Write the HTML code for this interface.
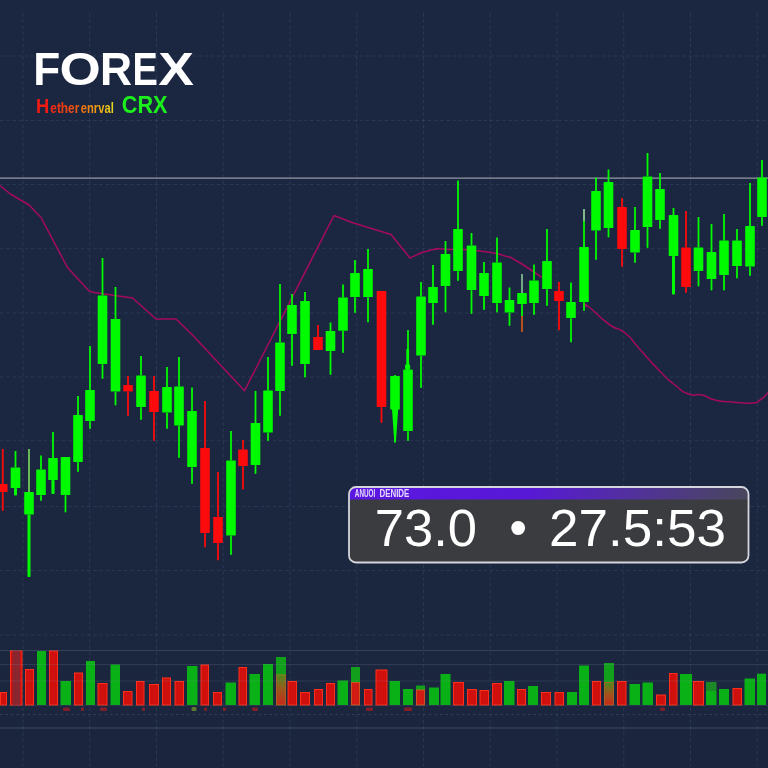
<!DOCTYPE html>
<html lang="en">
<head>
<meta charset="utf-8">
<title>FOREX</title>
<style>
html,body{margin:0;padding:0;background:#1b2740;}
body{width:768px;height:768px;overflow:hidden;font-family:"Liberation Sans",sans-serif;}
svg{display:block;}
</style>
</head>
<body>
<svg width="768" height="768" viewBox="0 0 768 768">
<defs>
<linearGradient id="bgg" x1="0" y1="0" x2="0" y2="1"><stop offset="0" stop-color="#1b2741"/><stop offset="0.5" stop-color="#1b2740"/><stop offset="1" stop-color="#1b263e"/></linearGradient>
<linearGradient id="sub" gradientUnits="userSpaceOnUse" x1="50" y1="0" x2="114" y2="0"><stop offset="0" stop-color="#f02412"/><stop offset="0.4" stop-color="#f05410"/><stop offset="0.6" stop-color="#f0840e"/><stop offset="0.85" stop-color="#ecb814"/><stop offset="1" stop-color="#e6dc1c"/></linearGradient>
<linearGradient id="hdr" x1="0" y1="0" x2="1" y2="0"><stop offset="0" stop-color="#5c16e2"/><stop offset="0.45" stop-color="#5819d6"/><stop offset="0.7" stop-color="#52309e"/><stop offset="0.9" stop-color="#4c4072"/><stop offset="1" stop-color="#48465c"/></linearGradient>
<linearGradient id="mix" x1="0" y1="0" x2="0" y2="1"><stop offset="0" stop-color="#4c8a1c"/><stop offset="0.45" stop-color="#9a5a1c"/><stop offset="1" stop-color="#c8281a"/></linearGradient>
<clipPath id="tipclip"><rect x="349" y="487" width="399.5" height="75.5" rx="7" ry="7"/></clipPath>
</defs>
<rect width="768" height="768" fill="url(#bgg)"/>
<g stroke="#7f93bd" stroke-opacity="0.15" stroke-width="1" stroke-dasharray="3.6 2.6" fill="none">
<line x1="23" y1="13" x2="23" y2="768"/>
<line x1="89.75" y1="13" x2="89.75" y2="768"/>
<line x1="156.5" y1="13" x2="156.5" y2="768"/>
<line x1="223.25" y1="13" x2="223.25" y2="768"/>
<line x1="290" y1="13" x2="290" y2="768"/>
<line x1="356.75" y1="13" x2="356.75" y2="768"/>
<line x1="423.5" y1="13" x2="423.5" y2="768"/>
<line x1="490.25" y1="13" x2="490.25" y2="768"/>
<line x1="557" y1="13" x2="557" y2="768"/>
<line x1="623.75" y1="13" x2="623.75" y2="768"/>
<line x1="690.5" y1="13" x2="690.5" y2="768"/>
<line x1="757.25" y1="13" x2="757.25" y2="768"/>
<line x1="0" y1="56" x2="768" y2="56"/>
<line x1="0" y1="120.5" x2="768" y2="120.5"/>
<line x1="0" y1="184.5" x2="768" y2="184.5"/>
<line x1="0" y1="248.7" x2="768" y2="248.7"/>
<line x1="0" y1="313" x2="768" y2="313"/>
<line x1="0" y1="377" x2="768" y2="377"/>
<line x1="0" y1="440.7" x2="768" y2="440.7"/>
<line x1="0" y1="506.5" x2="768" y2="506.5"/>
<line x1="0" y1="570.5" x2="768" y2="570.5"/>
<line x1="0" y1="635" x2="768" y2="635"/>
</g>
<line x1="0" y1="178.2" x2="768" y2="178.2" stroke="#9699a3" stroke-width="1.3"/>
<polyline points="0,185.5 10,193.75 29,205 41,217.5 67.5,267.5 89,291 94,292.5 115,295.5 132.5,298 156,319 176,319 192,334.5 244.5,390.75 334,215.5 352,222.5 391,234.5 410,258" fill="none" stroke="#a40a60" stroke-width="1.55" stroke-linejoin="round"/>
<path d="M410,258 C417,255.33 417.67,252.83 431,250 C444.33,247.17 433.67,249.17 450,249.5 C466.33,249.83 461.67,248.83 480,251 C498.33,253.17 493.33,253 505,256 C516.67,259 505.83,255 515,260 C524.17,265 523.83,265.33 532.5,271 C541.17,276.67 538.17,275 541,277" fill="none" stroke="#a40a60" stroke-width="1.55" stroke-linecap="round"/>
<path d="M586,306.5 C587,306.67 581.43,301.17 589,307 C596.57,312.83 596.7,315.33 608.7,324 C620.7,332.67 615,325 625,333 C635,341 627.47,335.67 638.7,348 C649.93,360.33 646.6,357.67 658.7,370 C670.8,382.33 665,377 675,385 C685,393 679.7,390.67 688.7,394 C697.7,397.33 693.23,393 702,395 C710.77,397 705,397.67 715,400 C725,402.33 719.67,401 732,402 C744.33,403 742.67,403.67 752,403 C761.33,402.33 754.67,403.43 760,400 C765.33,396.57 765.33,395.13 768,392.7" fill="none" stroke="#a40a60" stroke-width="1.55" stroke-linecap="round"/>
<g>
<rect x="1.85" y="449" width="1.8" height="35" fill="#fc0a0c"/>
<rect x="1.85" y="492" width="1.8" height="19" fill="#fc0a0c" rx="0.8"/>
<rect x="-2.05" y="484" width="9.6" height="8" fill="#fc0a0c" rx="0.6"/>
<rect x="14.6" y="451" width="1.8" height="16.5" fill="#00fa00"/>
<rect x="14" y="488" width="3" height="7.5" fill="#00fa00" rx="0.8"/>
<rect x="10.7" y="467.5" width="9.6" height="20.5" fill="#00fa00" rx="0.6"/>
<rect x="28.1" y="449" width="1.8" height="43" fill="#00fa00"/>
<rect x="27.5" y="514.5" width="3" height="62.5" fill="#00fa00" rx="0.8"/>
<rect x="24.2" y="492" width="9.6" height="22.5" fill="#00fa00" rx="0.6"/>
<rect x="40.1" y="455.5" width="1.8" height="14" fill="#00fa00"/>
<rect x="40.1" y="495" width="1.8" height="6" fill="#00fa00" rx="0.8"/>
<rect x="36.2" y="469.5" width="9.6" height="25.5" fill="#00fa00" rx="0.6"/>
<rect x="52.1" y="432" width="1.8" height="26" fill="#00fa00"/>
<rect x="51.4" y="480" width="3.2" height="14" fill="#00fa00" rx="0.8"/>
<rect x="48.2" y="458" width="9.6" height="22" fill="#00fa00" rx="0.6"/>
<rect x="64.6" y="495" width="1.8" height="17.5" fill="#00fa00" rx="0.8"/>
<rect x="60.7" y="457" width="9.6" height="38" fill="#00fa00" rx="0.6"/>
<rect x="77.1" y="396" width="1.8" height="19" fill="#00fa00"/>
<rect x="77.1" y="462" width="1.8" height="10" fill="#00fa00" rx="0.8"/>
<rect x="73.2" y="415" width="9.6" height="47" fill="#00fa00" rx="0.6"/>
<rect x="89.1" y="346" width="1.8" height="44" fill="#00fa00"/>
<rect x="89.1" y="421" width="1.8" height="8" fill="#00fa00" rx="0.8"/>
<rect x="85.2" y="390" width="9.6" height="31" fill="#00fa00" rx="0.6"/>
<rect x="101.6" y="258" width="1.8" height="37.5" fill="#00fa00"/>
<rect x="101.6" y="364" width="1.8" height="15" fill="#00fa00" rx="0.8"/>
<rect x="97.7" y="295.5" width="9.6" height="68.5" fill="#00fa00" rx="0.6"/>
<rect x="114.6" y="287" width="1.8" height="32" fill="#00fa00"/>
<rect x="114.6" y="391.5" width="1.8" height="14" fill="#00fa00" rx="0.8"/>
<rect x="110.7" y="319" width="9.6" height="72.5" fill="#00fa00" rx="0.6"/>
<rect x="127.1" y="376" width="1.8" height="9" fill="#fc0a0c"/>
<rect x="127.1" y="391.5" width="1.8" height="24.5" fill="#fc0a0c" rx="0.8"/>
<rect x="123.2" y="385" width="9.6" height="6.5" fill="#fc0a0c" rx="0.6"/>
<rect x="140.1" y="356" width="1.8" height="19.5" fill="#00fa00"/>
<rect x="140.1" y="407" width="1.8" height="13" fill="#00fa00" rx="0.8"/>
<rect x="136.2" y="375.5" width="9.6" height="31.5" fill="#00fa00" rx="0.6"/>
<rect x="153.1" y="376" width="1.8" height="15" fill="#fc0a0c"/>
<rect x="153.1" y="412" width="1.8" height="29" fill="#fc0a0c" rx="0.8"/>
<rect x="149.2" y="391" width="9.6" height="21" fill="#fc0a0c" rx="0.6"/>
<rect x="166.1" y="367" width="1.8" height="20" fill="#00fa00"/>
<rect x="166.1" y="412.5" width="1.8" height="16.5" fill="#00fa00" rx="0.8"/>
<rect x="162.2" y="387" width="9.6" height="25.5" fill="#00fa00" rx="0.6"/>
<rect x="178.1" y="357" width="1.8" height="29.5" fill="#00fa00"/>
<rect x="178.1" y="425.5" width="1.8" height="32.5" fill="#00fa00" rx="0.8"/>
<rect x="174.2" y="386.5" width="9.6" height="39" fill="#00fa00" rx="0.6"/>
<rect x="191.1" y="387.5" width="1.8" height="23.5" fill="#00fa00"/>
<rect x="191.1" y="467" width="1.8" height="17" fill="#00fa00" rx="0.8"/>
<rect x="187.2" y="411" width="9.6" height="56" fill="#00fa00" rx="0.6"/>
<rect x="204.1" y="401" width="1.8" height="47" fill="#fc0a0c"/>
<rect x="204.1" y="533" width="1.8" height="14.5" fill="#fc0a0c" rx="0.8"/>
<rect x="200.2" y="448" width="9.6" height="85" fill="#fc0a0c" rx="0.6"/>
<rect x="217.1" y="472" width="1.8" height="45" fill="#fc0a0c"/>
<rect x="217.1" y="543" width="1.8" height="17.5" fill="#fc0a0c" rx="0.8"/>
<rect x="213.2" y="517" width="9.6" height="26" fill="#fc0a0c" rx="0.6"/>
<rect x="230.1" y="431" width="1.8" height="29.5" fill="#00fa00"/>
<rect x="230.1" y="535.5" width="1.8" height="19.5" fill="#00fa00" rx="0.8"/>
<rect x="226.2" y="460.5" width="9.6" height="75" fill="#00fa00" rx="0.6"/>
<rect x="242.1" y="440" width="1.8" height="9.5" fill="#fc0a0c"/>
<rect x="242.1" y="466" width="1.8" height="23.5" fill="#fc0a0c" rx="0.8"/>
<rect x="238.2" y="449.5" width="9.6" height="16.5" fill="#fc0a0c" rx="0.6"/>
<rect x="254.6" y="391" width="1.8" height="32" fill="#00fa00"/>
<rect x="254.6" y="465" width="1.8" height="9" fill="#00fa00" rx="0.8"/>
<rect x="250.7" y="423" width="9.6" height="42" fill="#00fa00" rx="0.6"/>
<rect x="267.1" y="357" width="1.8" height="33.5" fill="#00fa00"/>
<rect x="267.1" y="432.5" width="1.8" height="8.5" fill="#00fa00" rx="0.8"/>
<rect x="263.2" y="390.5" width="9.6" height="42" fill="#00fa00" rx="0.6"/>
<rect x="279.1" y="284" width="1.8" height="58.5" fill="#00fa00"/>
<rect x="279.1" y="391" width="1.8" height="25" fill="#00fa00" rx="0.8"/>
<rect x="275.2" y="342.5" width="9.6" height="48.5" fill="#00fa00" rx="0.6"/>
<rect x="291.1" y="294" width="1.8" height="11" fill="#00fa00"/>
<rect x="291.1" y="334" width="1.8" height="32" fill="#00fa00" rx="0.8"/>
<rect x="287.2" y="305" width="9.6" height="29" fill="#00fa00" rx="0.6"/>
<rect x="304.1" y="292" width="1.8" height="9" fill="#00fa00"/>
<rect x="304.1" y="364" width="1.8" height="13.5" fill="#00fa00" rx="0.8"/>
<rect x="300.2" y="301" width="9.6" height="63" fill="#00fa00" rx="0.6"/>
<rect x="317.1" y="325" width="1.8" height="12" fill="#fc0a0c"/>
<rect x="313.2" y="337" width="9.6" height="13" fill="#fc0a0c" rx="0.6"/>
<rect x="329.6" y="322.5" width="1.8" height="8.5" fill="#00fa00"/>
<rect x="329.6" y="351" width="1.8" height="24" fill="#00fa00" rx="0.8"/>
<rect x="325.7" y="331" width="9.6" height="20" fill="#00fa00" rx="0.6"/>
<rect x="342.1" y="284.5" width="1.8" height="13" fill="#00fa00"/>
<rect x="342.1" y="330.75" width="1.8" height="22.25" fill="#00fa00" rx="0.8"/>
<rect x="338.2" y="297.5" width="9.6" height="33.25" fill="#00fa00" rx="0.6"/>
<rect x="354.1" y="260" width="1.8" height="13" fill="#00fa00"/>
<rect x="354.1" y="297" width="1.8" height="16" fill="#00fa00" rx="0.8"/>
<rect x="350.2" y="273" width="9.6" height="24" fill="#00fa00" rx="0.6"/>
<rect x="367.1" y="249" width="1.8" height="20" fill="#00fa00"/>
<rect x="367.1" y="297" width="1.8" height="25.5" fill="#00fa00" rx="0.8"/>
<rect x="363.2" y="269" width="9.6" height="28" fill="#00fa00" rx="0.6"/>
<rect x="380.6" y="407" width="1.8" height="16" fill="#fc0a0c" rx="0.8"/>
<rect x="376.7" y="291" width="9.6" height="116" fill="#fc0a0c" rx="0.6"/>
<rect x="394.1" y="375" width="1.8" height="1" fill="#00fa00"/>
<rect x="394.1" y="409.5" width="1.8" height="33" fill="#00fa00" rx="0.8"/>
<rect x="390.2" y="376" width="9.6" height="33.5" fill="#00fa00" rx="0.6"/>
<rect x="407.1" y="330" width="1.8" height="39.5" fill="#00fa00"/>
<rect x="407.1" y="431" width="1.8" height="10" fill="#00fa00" rx="0.8"/>
<rect x="403.2" y="369.5" width="9.6" height="61.5" fill="#00fa00" rx="0.6"/>
<rect x="420.1" y="282" width="1.8" height="14.5" fill="#00fa00"/>
<rect x="420.1" y="355.5" width="1.8" height="32.5" fill="#00fa00" rx="0.8"/>
<rect x="416.2" y="296.5" width="9.6" height="59" fill="#00fa00" rx="0.6"/>
<rect x="432.1" y="265" width="1.8" height="22" fill="#00fa00"/>
<rect x="432.1" y="303" width="1.8" height="22" fill="#00fa00" rx="0.8"/>
<rect x="428.2" y="287" width="9.6" height="16" fill="#00fa00" rx="0.6"/>
<rect x="444.6" y="241" width="1.8" height="13" fill="#00fa00"/>
<rect x="444.6" y="286" width="1.8" height="26.5" fill="#00fa00" rx="0.8"/>
<rect x="440.7" y="254" width="9.6" height="32" fill="#00fa00" rx="0.6"/>
<rect x="457.1" y="180.5" width="1.8" height="48.5" fill="#00fa00"/>
<rect x="457.1" y="271" width="1.8" height="10" fill="#00fa00" rx="0.8"/>
<rect x="453.2" y="229" width="9.6" height="42" fill="#00fa00" rx="0.6"/>
<rect x="470.6" y="233" width="1.8" height="12.5" fill="#00fa00"/>
<rect x="470.6" y="290" width="1.8" height="24" fill="#00fa00" rx="0.8"/>
<rect x="466.7" y="245.5" width="9.6" height="44.5" fill="#00fa00" rx="0.6"/>
<rect x="483.1" y="262" width="1.8" height="11" fill="#00fa00"/>
<rect x="483.1" y="296" width="1.8" height="14" fill="#00fa00" rx="0.8"/>
<rect x="479.2" y="273" width="9.6" height="23" fill="#00fa00" rx="0.6"/>
<rect x="496.1" y="237.5" width="1.8" height="25" fill="#00fa00"/>
<rect x="496.1" y="303" width="1.8" height="9.5" fill="#00fa00" rx="0.8"/>
<rect x="492.2" y="262.5" width="9.6" height="40.5" fill="#00fa00" rx="0.6"/>
<rect x="508.6" y="287.5" width="1.8" height="12.5" fill="#00fa00"/>
<rect x="508.6" y="312.5" width="1.8" height="13.5" fill="#00fa00" rx="0.8"/>
<rect x="504.7" y="300" width="9.6" height="12.5" fill="#00fa00" rx="0.6"/>
<rect x="521.1" y="274" width="1.8" height="19" fill="#00fa00"/>
<rect x="521.1" y="304" width="1.8" height="28" fill="#00fa00" rx="0.8"/>
<rect x="517.2" y="293" width="9.6" height="11" fill="#00fa00" rx="0.6"/>
<rect x="533.1" y="264.5" width="1.8" height="16" fill="#00fa00"/>
<rect x="533.1" y="303" width="1.8" height="12" fill="#00fa00" rx="0.8"/>
<rect x="529.2" y="280.5" width="9.6" height="22.5" fill="#00fa00" rx="0.6"/>
<rect x="546.1" y="229" width="1.8" height="32" fill="#00fa00"/>
<rect x="546.1" y="289" width="1.8" height="17" fill="#00fa00" rx="0.8"/>
<rect x="542.2" y="261" width="9.6" height="28" fill="#00fa00" rx="0.6"/>
<rect x="558.1" y="282" width="1.8" height="9" fill="#fc0a0c"/>
<rect x="558.1" y="301" width="1.8" height="29.5" fill="#fc0a0c" rx="0.8"/>
<rect x="554.2" y="291" width="9.6" height="10" fill="#fc0a0c" rx="0.6"/>
<rect x="570.1" y="282.5" width="1.8" height="19.5" fill="#00fa00"/>
<rect x="570.1" y="318" width="1.8" height="24.5" fill="#00fa00" rx="0.8"/>
<rect x="566.2" y="302" width="9.6" height="16" fill="#00fa00" rx="0.6"/>
<rect x="583.1" y="209" width="1.8" height="38" fill="#00fa00"/>
<rect x="583.1" y="302" width="1.8" height="9" fill="#00fa00" rx="0.8"/>
<rect x="579.2" y="247" width="9.6" height="55" fill="#00fa00" rx="0.6"/>
<rect x="595.1" y="177.5" width="1.8" height="13.5" fill="#00fa00"/>
<rect x="595.1" y="230.5" width="1.8" height="29.5" fill="#00fa00" rx="0.8"/>
<rect x="591.2" y="191" width="9.6" height="39.5" fill="#00fa00" rx="0.6"/>
<rect x="607.6" y="169.5" width="1.8" height="12.5" fill="#00fa00"/>
<rect x="607.6" y="228" width="1.8" height="9.5" fill="#00fa00" rx="0.8"/>
<rect x="603.7" y="182" width="9.6" height="46" fill="#00fa00" rx="0.6"/>
<rect x="621.1" y="198" width="1.8" height="9" fill="#fc0a0c"/>
<rect x="621.1" y="249" width="1.8" height="18" fill="#fc0a0c" rx="0.8"/>
<rect x="617.2" y="207" width="9.6" height="42" fill="#fc0a0c" rx="0.6"/>
<rect x="634.1" y="207" width="1.8" height="23" fill="#00fa00"/>
<rect x="634.1" y="252.5" width="1.8" height="10.5" fill="#00fa00" rx="0.8"/>
<rect x="630.2" y="230" width="9.6" height="22.5" fill="#00fa00" rx="0.6"/>
<rect x="646.6" y="153" width="1.8" height="23.5" fill="#00fa00"/>
<rect x="646.6" y="227" width="1.8" height="21" fill="#00fa00" rx="0.8"/>
<rect x="642.7" y="176.5" width="9.6" height="50.5" fill="#00fa00" rx="0.6"/>
<rect x="659.1" y="173" width="1.8" height="16" fill="#00fa00"/>
<rect x="659.1" y="220" width="1.8" height="9" fill="#00fa00" rx="0.8"/>
<rect x="655.2" y="189" width="9.6" height="31" fill="#00fa00" rx="0.6"/>
<rect x="672.6" y="208" width="1.8" height="7" fill="#00fa00"/>
<rect x="672" y="256" width="3" height="38.5" fill="#00fa00" rx="0.8"/>
<rect x="668.7" y="215" width="9.6" height="41" fill="#00fa00" rx="0.6"/>
<rect x="685.1" y="211" width="1.8" height="36.5" fill="#fc0a0c"/>
<rect x="685.1" y="287" width="1.8" height="6" fill="#fc0a0c" rx="0.8"/>
<rect x="681.2" y="247.5" width="9.6" height="39.5" fill="#fc0a0c" rx="0.6"/>
<rect x="697.6" y="217" width="1.8" height="30.5" fill="#00fa00"/>
<rect x="697.6" y="271" width="1.8" height="15.5" fill="#00fa00" rx="0.8"/>
<rect x="693.7" y="247.5" width="9.6" height="23.5" fill="#00fa00" rx="0.6"/>
<rect x="710.6" y="224" width="1.8" height="28" fill="#00fa00"/>
<rect x="710.6" y="279" width="1.8" height="11.5" fill="#00fa00" rx="0.8"/>
<rect x="706.7" y="252" width="9.6" height="27" fill="#00fa00" rx="0.6"/>
<rect x="723.1" y="214" width="1.8" height="26.5" fill="#00fa00"/>
<rect x="723.1" y="275" width="1.8" height="15.5" fill="#00fa00" rx="0.8"/>
<rect x="719.2" y="240.5" width="9.6" height="34.5" fill="#00fa00" rx="0.6"/>
<rect x="736.1" y="229" width="1.8" height="11.5" fill="#00fa00"/>
<rect x="736.1" y="266" width="1.8" height="12.5" fill="#00fa00" rx="0.8"/>
<rect x="732.2" y="240.5" width="9.6" height="25.5" fill="#00fa00" rx="0.6"/>
<rect x="749.1" y="183" width="1.8" height="43" fill="#00fa00"/>
<rect x="749.1" y="266.5" width="1.8" height="9.5" fill="#00fa00" rx="0.8"/>
<rect x="745.2" y="226" width="9.6" height="40.5" fill="#00fa00" rx="0.6"/>
<rect x="761.1" y="160" width="1.8" height="17.5" fill="#00fa00"/>
<rect x="761.1" y="217" width="1.8" height="9" fill="#00fa00" rx="0.8"/>
<rect x="757.2" y="177.5" width="9.6" height="39.5" fill="#00fa00" rx="0.6"/>
<polygon points="392,409 398.2,409 395.9,442.5 394.3,442.5" fill="#00fa00"/>
<rect x="406.3" y="349" width="2.8" height="16" fill="#00fa00"/>
<rect x="405" y="364" width="5.2" height="6" rx="2" fill="#00fa00"/>
<rect x="521.2" y="274" width="1.6" height="19" fill="#8f98a8"/>
<rect x="521.1" y="316" width="1.8" height="16" fill="#c8401c"/>
<rect x="28.2" y="449" width="1.6" height="43" fill="#7fae6a"/>
<rect x="583.2" y="209" width="1.6" height="12" fill="#9fb0a8"/>
</g>
<g>
<rect x="0.5" y="692.5" width="6" height="12.5" fill="#d0100c" stroke="#ff2e1a" stroke-width="1"/>
<rect x="10.5" y="651" width="11.5" height="54" fill="#d0100c" stroke="#ff2e1a" stroke-width="1"/>
<rect x="25.5" y="669.5" width="8" height="35.5" fill="#d0100c" stroke="#ff2e1a" stroke-width="1"/>
<rect x="37" y="651" width="9" height="54" fill="#09b016"/>
<rect x="49.5" y="651" width="8" height="54" fill="#d0100c" stroke="#ff2e1a" stroke-width="1"/>
<rect x="60.5" y="681" width="10.5" height="24" fill="#09b016"/>
<rect x="74.5" y="673" width="8" height="32" fill="#d0100c" stroke="#ff2e1a" stroke-width="1"/>
<rect x="86" y="661" width="9" height="44" fill="#09b016"/>
<rect x="98" y="683.5" width="9" height="21.5" fill="#d0100c" stroke="#ff2e1a" stroke-width="1"/>
<rect x="110.5" y="664.5" width="9.5" height="40.5" fill="#09b016"/>
<rect x="123.5" y="691.5" width="8.5" height="13.5" fill="#d0100c" stroke="#ff2e1a" stroke-width="1"/>
<rect x="136.5" y="681.5" width="7.5" height="23.5" fill="#d0100c" stroke="#ff2e1a" stroke-width="1"/>
<rect x="149.5" y="684.5" width="9" height="20.5" fill="#d0100c" stroke="#ff2e1a" stroke-width="1"/>
<rect x="162.5" y="678" width="8" height="27" fill="#d0100c" stroke="#ff2e1a" stroke-width="1"/>
<rect x="175" y="681.5" width="8.5" height="23.5" fill="#d0100c" stroke="#ff2e1a" stroke-width="1"/>
<rect x="187" y="666" width="10.5" height="39" fill="#09b016"/>
<rect x="201" y="665" width="7.5" height="40" fill="#d0100c" stroke="#ff2e1a" stroke-width="1"/>
<rect x="213.5" y="692.5" width="8" height="12.5" fill="#d0100c" stroke="#ff2e1a" stroke-width="1"/>
<rect x="225.5" y="682.5" width="10.5" height="22.5" fill="#09b016"/>
<rect x="239" y="667.5" width="7.5" height="37.5" fill="#d0100c" stroke="#ff2e1a" stroke-width="1"/>
<rect x="249.5" y="674" width="10.5" height="31" fill="#09b016"/>
<rect x="263" y="664" width="10" height="41" fill="#09b016"/>
<rect x="276" y="657" width="10" height="18" fill="#12a01c"/>
<rect x="276.5" y="675" width="9" height="30" fill="url(#mix)" stroke="#c8701c" stroke-width="1" stroke-opacity="0.7"/>
<rect x="288" y="681.5" width="8.5" height="23.5" fill="#d0100c" stroke="#ff2e1a" stroke-width="1"/>
<rect x="300.5" y="692.5" width="9" height="12.5" fill="#d0100c" stroke="#ff2e1a" stroke-width="1"/>
<rect x="314.5" y="689.5" width="8" height="15.5" fill="#d0100c" stroke="#ff2e1a" stroke-width="1"/>
<rect x="326.5" y="683.5" width="8" height="21.5" fill="#d0100c" stroke="#ff2e1a" stroke-width="1"/>
<rect x="337.5" y="680.5" width="10.5" height="24.5" fill="#09b016"/>
<rect x="351" y="667" width="9" height="15.5" fill="#12a01c"/>
<rect x="351.5" y="682.5" width="8" height="22.5" fill="#d01c14" stroke="#e0601c" stroke-width="1" stroke-opacity="0.8"/>
<rect x="364.5" y="689.5" width="7.5" height="15.5" fill="#d0100c" stroke="#ff2e1a" stroke-width="1"/>
<rect x="376" y="670" width="11" height="35" fill="#d0100c" stroke="#ff2e1a" stroke-width="1"/>
<rect x="389.5" y="681" width="10.5" height="24" fill="#09b016"/>
<rect x="403" y="689" width="10" height="16" fill="#09b016"/>
<rect x="416" y="685.5" width="9" height="4.5" fill="#12a01c"/>
<rect x="416.5" y="690" width="8" height="15" fill="#d01c14" stroke="#e0601c" stroke-width="1" stroke-opacity="0.8"/>
<rect x="429" y="687.5" width="10" height="17.5" fill="#09b016"/>
<rect x="440.5" y="674" width="10" height="31" fill="#09b016"/>
<rect x="453.5" y="682.5" width="10" height="22.5" fill="#d0100c" stroke="#ff2e1a" stroke-width="1"/>
<rect x="467.5" y="689.5" width="9" height="15.5" fill="#d0100c" stroke="#ff2e1a" stroke-width="1"/>
<rect x="480" y="690.5" width="8.5" height="14.5" fill="#d0100c" stroke="#ff2e1a" stroke-width="1"/>
<rect x="492.5" y="683.5" width="9" height="21.5" fill="#d0100c" stroke="#ff2e1a" stroke-width="1"/>
<rect x="504" y="681" width="10.5" height="24" fill="#09b016"/>
<rect x="517.5" y="689.5" width="8" height="15.5" fill="#d0100c" stroke="#ff2e1a" stroke-width="1"/>
<rect x="528" y="686" width="10" height="19" fill="#09b016"/>
<rect x="541.5" y="692.5" width="9" height="12.5" fill="#d0100c" stroke="#ff2e1a" stroke-width="1"/>
<rect x="555" y="692.5" width="8.5" height="12.5" fill="#d0100c" stroke="#ff2e1a" stroke-width="1"/>
<rect x="567" y="692" width="10" height="13" fill="#09b016"/>
<rect x="579" y="665.5" width="10" height="39.5" fill="#09b016"/>
<rect x="592.5" y="681.5" width="8" height="23.5" fill="#d0100c" stroke="#ff2e1a" stroke-width="1"/>
<rect x="604" y="663" width="10" height="19.5" fill="#12a01c"/>
<rect x="604.5" y="682.5" width="9" height="22.5" fill="url(#mix)" stroke="#c8701c" stroke-width="1" stroke-opacity="0.7"/>
<rect x="617.5" y="681.5" width="8.5" height="23.5" fill="#d0100c" stroke="#ff2e1a" stroke-width="1"/>
<rect x="629.5" y="684" width="10.5" height="21" fill="#09b016"/>
<rect x="642.5" y="682.5" width="10.5" height="22.5" fill="#09b016"/>
<rect x="656.5" y="695" width="9" height="10" fill="#d0100c" stroke="#ff2e1a" stroke-width="1"/>
<rect x="669.5" y="673.5" width="7.5" height="31.5" fill="#d0100c" stroke="#ff2e1a" stroke-width="1"/>
<rect x="680" y="674" width="12" height="31" fill="#09b016"/>
<rect x="693.5" y="681.5" width="10" height="23.5" fill="#d0100c" stroke="#ff2e1a" stroke-width="1"/>
<rect x="706" y="682" width="10.5" height="9" fill="#1c8a24"/>
<rect x="706" y="691" width="10.5" height="14" fill="#09b016"/>
<rect x="719" y="689" width="10" height="16" fill="#09b016"/>
<rect x="733" y="688.5" width="8.5" height="16.5" fill="#d0100c" stroke="#ff2e1a" stroke-width="1"/>
<rect x="744.5" y="678.5" width="10.5" height="26.5" fill="#09b016"/>
<rect x="757" y="673.7" width="9" height="31.3" fill="#09b016"/>
<rect x="12.5" y="651" width="7.5" height="54" fill="#7e2a36" fill-opacity="0.85"/>
</g>
<g stroke="#8d97b5" stroke-opacity="0.24" stroke-width="1" fill="none">
<line x1="0" y1="650.6" x2="768" y2="650.6" stroke-opacity="0.26"/>
<line x1="0" y1="664.6" x2="768" y2="664.6" stroke-opacity="0.2"/>
<line x1="0" y1="681" x2="768" y2="681" stroke-opacity="0.16"/>
<line x1="0" y1="728" x2="768" y2="728" stroke-opacity="0.3"/>
<line x1="0" y1="714.5" x2="768" y2="714.5" stroke-dasharray="2.5 3" stroke-opacity="0.2"/>
</g>
<line x1="0" y1="705.3" x2="768" y2="705.3" stroke="#7b84a0" stroke-opacity="0.18" stroke-width="1"/>
<g fill="#d01a1a" fill-opacity="0.55">
<rect x="63" y="707.5" width="7" height="3.5" rx="1"/>
<rect x="81" y="707.5" width="3" height="3.5" rx="1"/>
<rect x="100" y="707.5" width="7" height="3.5" rx="1"/>
<rect x="142" y="707.5" width="3" height="3.5" rx="1"/>
<rect x="204" y="707.5" width="3" height="3.5" rx="1"/>
<rect x="223" y="707.5" width="3" height="3.5" rx="1"/>
<rect x="252" y="707.5" width="6" height="3.5" rx="1"/>
<rect x="366" y="707.5" width="7" height="3.5" rx="1"/>
<rect x="404" y="707.5" width="8" height="3.5" rx="1"/>
<rect x="660" y="707.5" width="5" height="3.5" rx="1"/>
</g>
<rect x="191.5" y="707" width="5" height="4" rx="1" fill="#8ab020" fill-opacity="0.6"/>
<g>
<rect x="349" y="487" width="399.5" height="75.5" rx="7" ry="7" fill="#3a3c40"/>
<rect x="349" y="487" width="399.5" height="12.5" fill="url(#hdr)" clip-path="url(#tipclip)"/>
<rect x="349" y="487" width="399.5" height="75.5" rx="7" ry="7" fill="none" stroke="#d4d6dc" stroke-width="1.8"/>
<text y="497.3" font-family="'Liberation Sans', sans-serif" font-weight="bold" font-size="10.4" fill="#e2d8fa"><tspan x="354.8" textLength="20.5" lengthAdjust="spacingAndGlyphs">ANUOI</tspan> <tspan x="379.4" textLength="30" lengthAdjust="spacingAndGlyphs">DENIDE</tspan></text>
<text y="545.7" font-family="'Liberation Sans', sans-serif" font-size="51.5" fill="#ffffff"><tspan x="374.8" textLength="102.3" lengthAdjust="spacingAndGlyphs">73.0</tspan> <tspan x="509.35" y="544.9" font-size="51">•</tspan> <tspan x="548.9" y="545.7" textLength="177" lengthAdjust="spacingAndGlyphs">27.5:53</tspan></text>
</g>
<text y="85" font-family="'Liberation Sans', sans-serif" font-weight="bold" font-size="46.5" fill="#ffffff"><tspan x="33.15" textLength="26.97" lengthAdjust="spacingAndGlyphs">F</tspan><tspan x="59.52" textLength="41.31" lengthAdjust="spacingAndGlyphs">O</tspan><tspan x="100.03" textLength="32.08" lengthAdjust="spacingAndGlyphs">R</tspan><tspan x="132.46" textLength="25.32" lengthAdjust="spacingAndGlyphs">E</tspan><tspan x="158.33" textLength="35.64" lengthAdjust="spacingAndGlyphs">X</tspan></text>
<text y="112.8" font-family="'Liberation Sans', sans-serif" font-weight="bold"><tspan x="36" font-size="20.5" fill="#f01c14" textLength="13.2" lengthAdjust="spacingAndGlyphs">H</tspan><tspan x="50.3" font-size="15" fill="url(#sub)" textLength="29" lengthAdjust="spacingAndGlyphs">ether</tspan><tspan x="80.8" font-size="15" fill="url(#sub)" textLength="33" lengthAdjust="spacingAndGlyphs">enrval</tspan></text>
<text x="121.8" y="112.8" font-family="'Liberation Sans', sans-serif" font-weight="bold" font-size="23.2" fill="#1cf01c" textLength="45.6" lengthAdjust="spacingAndGlyphs">CRX</text>
</svg>
</body>
</html>
